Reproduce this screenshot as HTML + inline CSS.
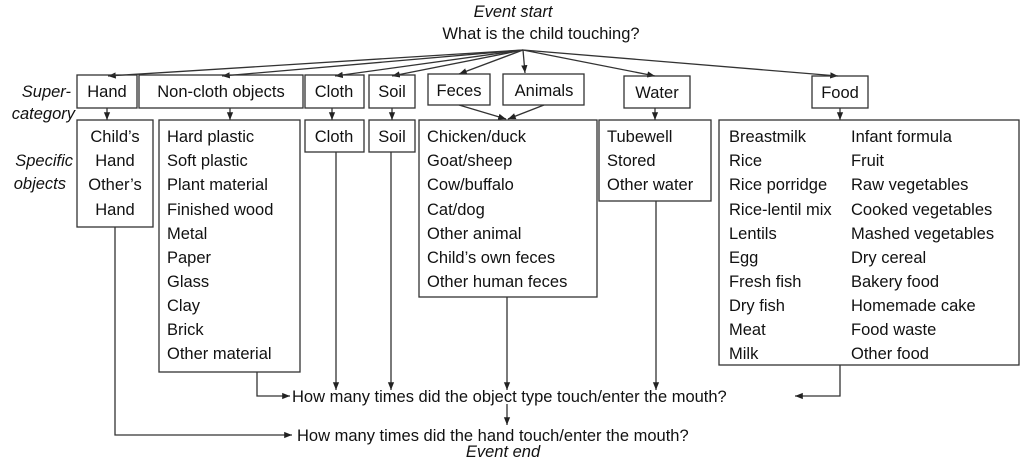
<!DOCTYPE html>
<html><head><meta charset="utf-8"><style>
html,body{margin:0;padding:0;background:#fff;width:1024px;height:462px;overflow:hidden}
svg text{font-family:"Liberation Sans",Arial,sans-serif;font-size:16.5px;fill:#111}
.i{font-style:italic}
</style></head><body>
<svg width="1024" height="462" viewBox="0 0 1024 462" xmlns="http://www.w3.org/2000/svg">
<defs><marker id="a" viewBox="0 0 10 10" refX="10" refY="5" markerWidth="6" markerHeight="6" orient="auto"><path d="M0,1 L10,5 L0,9 z" fill="#222"/></marker></defs>
<g stroke="#333" stroke-width="1.3" fill="none">
<!-- top fan -->
<line x1="523" y1="50" x2="108" y2="76" marker-end="url(#a)"/>
<line x1="523" y1="50" x2="222" y2="76" marker-end="url(#a)"/>
<line x1="523" y1="50" x2="335" y2="76" marker-end="url(#a)"/>
<line x1="523" y1="50" x2="392" y2="76" marker-end="url(#a)"/>
<line x1="523" y1="50" x2="459" y2="74" marker-end="url(#a)"/>
<line x1="523" y1="50" x2="525" y2="73" marker-end="url(#a)"/>
<line x1="523" y1="50" x2="655" y2="76" marker-end="url(#a)"/>
<line x1="523" y1="50" x2="838" y2="76" marker-end="url(#a)"/>
<!-- super boxes -->
<rect x="77" y="75" width="60" height="33"/>
<rect x="139" y="75" width="164" height="33"/>
<rect x="305" y="75" width="59" height="33"/>
<rect x="369" y="75" width="46" height="33"/>
<rect x="428" y="74" width="62" height="31"/>
<rect x="503" y="74" width="81" height="31"/>
<rect x="624" y="76" width="66" height="32"/>
<rect x="812" y="76" width="56" height="32"/>
<!-- down arrows -->
<line x1="107" y1="108" x2="107" y2="120" marker-end="url(#a)"/>
<line x1="230" y1="108" x2="230" y2="120" marker-end="url(#a)"/>
<line x1="332" y1="108" x2="332" y2="120" marker-end="url(#a)"/>
<line x1="392" y1="108" x2="392" y2="120" marker-end="url(#a)"/>
<line x1="459" y1="105" x2="506" y2="119" marker-end="url(#a)"/>
<line x1="544" y1="105" x2="508" y2="119" marker-end="url(#a)"/>
<line x1="655" y1="108" x2="655" y2="120" marker-end="url(#a)"/>
<line x1="840" y1="108" x2="840" y2="120" marker-end="url(#a)"/>
<!-- specific boxes -->
<rect x="77" y="120" width="76" height="107"/>
<rect x="159" y="120" width="141" height="252"/>
<rect x="305" y="120" width="59" height="32"/>
<rect x="369" y="120" width="46" height="32"/>
<rect x="419" y="120" width="178" height="177"/>
<rect x="599" y="120" width="112" height="81"/>
<rect x="719" y="120" width="300" height="245"/>
<!-- bottom connectors -->
<polyline points="115,227 115,435 292,435" marker-end="url(#a)"/>
<polyline points="257,372 257,396 290,396" marker-end="url(#a)"/>
<line x1="336" y1="152" x2="336" y2="390" marker-end="url(#a)"/>
<line x1="391" y1="152" x2="391" y2="390" marker-end="url(#a)"/>
<line x1="507" y1="297" x2="507" y2="390" marker-end="url(#a)"/>
<line x1="656" y1="201" x2="656" y2="390" marker-end="url(#a)"/>
<polyline points="840,365 840,396 795,396" marker-end="url(#a)"/>
<line x1="507" y1="404" x2="507" y2="425" marker-end="url(#a)"/>
</g>
<text x="513" y="17" text-anchor="middle" class="i">Event start</text>
<text x="541" y="39" text-anchor="middle">What is the child touching?</text>
<text x="71" y="97" text-anchor="end" class="i">Super-</text>
<text x="75" y="119" text-anchor="end" class="i">category</text>
<text x="73" y="166" text-anchor="end" class="i">Specific</text>
<text x="66" y="189" text-anchor="end" class="i">objects</text>
<text x="107" y="97" text-anchor="middle">Hand</text>
<text x="221" y="97" text-anchor="middle">Non-cloth objects</text>
<text x="334" y="97" text-anchor="middle">Cloth</text>
<text x="392" y="97" text-anchor="middle">Soil</text>
<text x="459" y="96" text-anchor="middle">Feces</text>
<text x="544" y="96" text-anchor="middle">Animals</text>
<text x="657" y="98" text-anchor="middle">Water</text>
<text x="840" y="98" text-anchor="middle">Food</text>
<g text-anchor="middle">
<text x="115" y="142">Child’s</text><text x="115" y="166">Hand</text><text x="115" y="190">Other’s</text><text x="115" y="215">Hand</text>
<text x="334" y="142">Cloth</text><text x="392" y="142">Soil</text>
</g>
<g>
<text x="167" y="142">Hard plastic</text><text x="167" y="166">Soft plastic</text><text x="167" y="190">Plant material</text><text x="167" y="215">Finished wood</text><text x="167" y="239">Metal</text><text x="167" y="263">Paper</text><text x="167" y="287">Glass</text><text x="167" y="311">Clay</text><text x="167" y="335">Brick</text><text x="167" y="359">Other material</text>
<text x="427" y="142">Chicken/duck</text><text x="427" y="166">Goat/sheep</text><text x="427" y="190">Cow/buffalo</text><text x="427" y="215">Cat/dog</text><text x="427" y="239">Other animal</text><text x="427" y="263">Child’s own feces</text><text x="427" y="287">Other human feces</text>
<text x="607" y="142">Tubewell</text><text x="607" y="166">Stored</text><text x="607" y="190">Other water</text>
<text x="729" y="142">Breastmilk</text><text x="729" y="166">Rice</text><text x="729" y="190">Rice porridge</text><text x="729" y="215">Rice-lentil mix</text><text x="729" y="239">Lentils</text><text x="729" y="263">Egg</text><text x="729" y="287">Fresh fish</text><text x="729" y="311">Dry fish</text><text x="729" y="335">Meat</text><text x="729" y="359">Milk</text>
<text x="851" y="142">Infant formula</text><text x="851" y="166">Fruit</text><text x="851" y="190">Raw vegetables</text><text x="851" y="215">Cooked vegetables</text><text x="851" y="239">Mashed vegetables</text><text x="851" y="263">Dry cereal</text><text x="851" y="287">Bakery food</text><text x="851" y="311">Homemade cake</text><text x="851" y="335">Food waste</text><text x="851" y="359">Other food</text>
<text x="292" y="402">How many times did the object type touch/enter the mouth?</text>
<text x="297" y="441">How many times did the hand touch/enter the mouth?</text>
</g>
<text x="503" y="457" text-anchor="middle" class="i">Event end</text>
</svg>
</body></html>
